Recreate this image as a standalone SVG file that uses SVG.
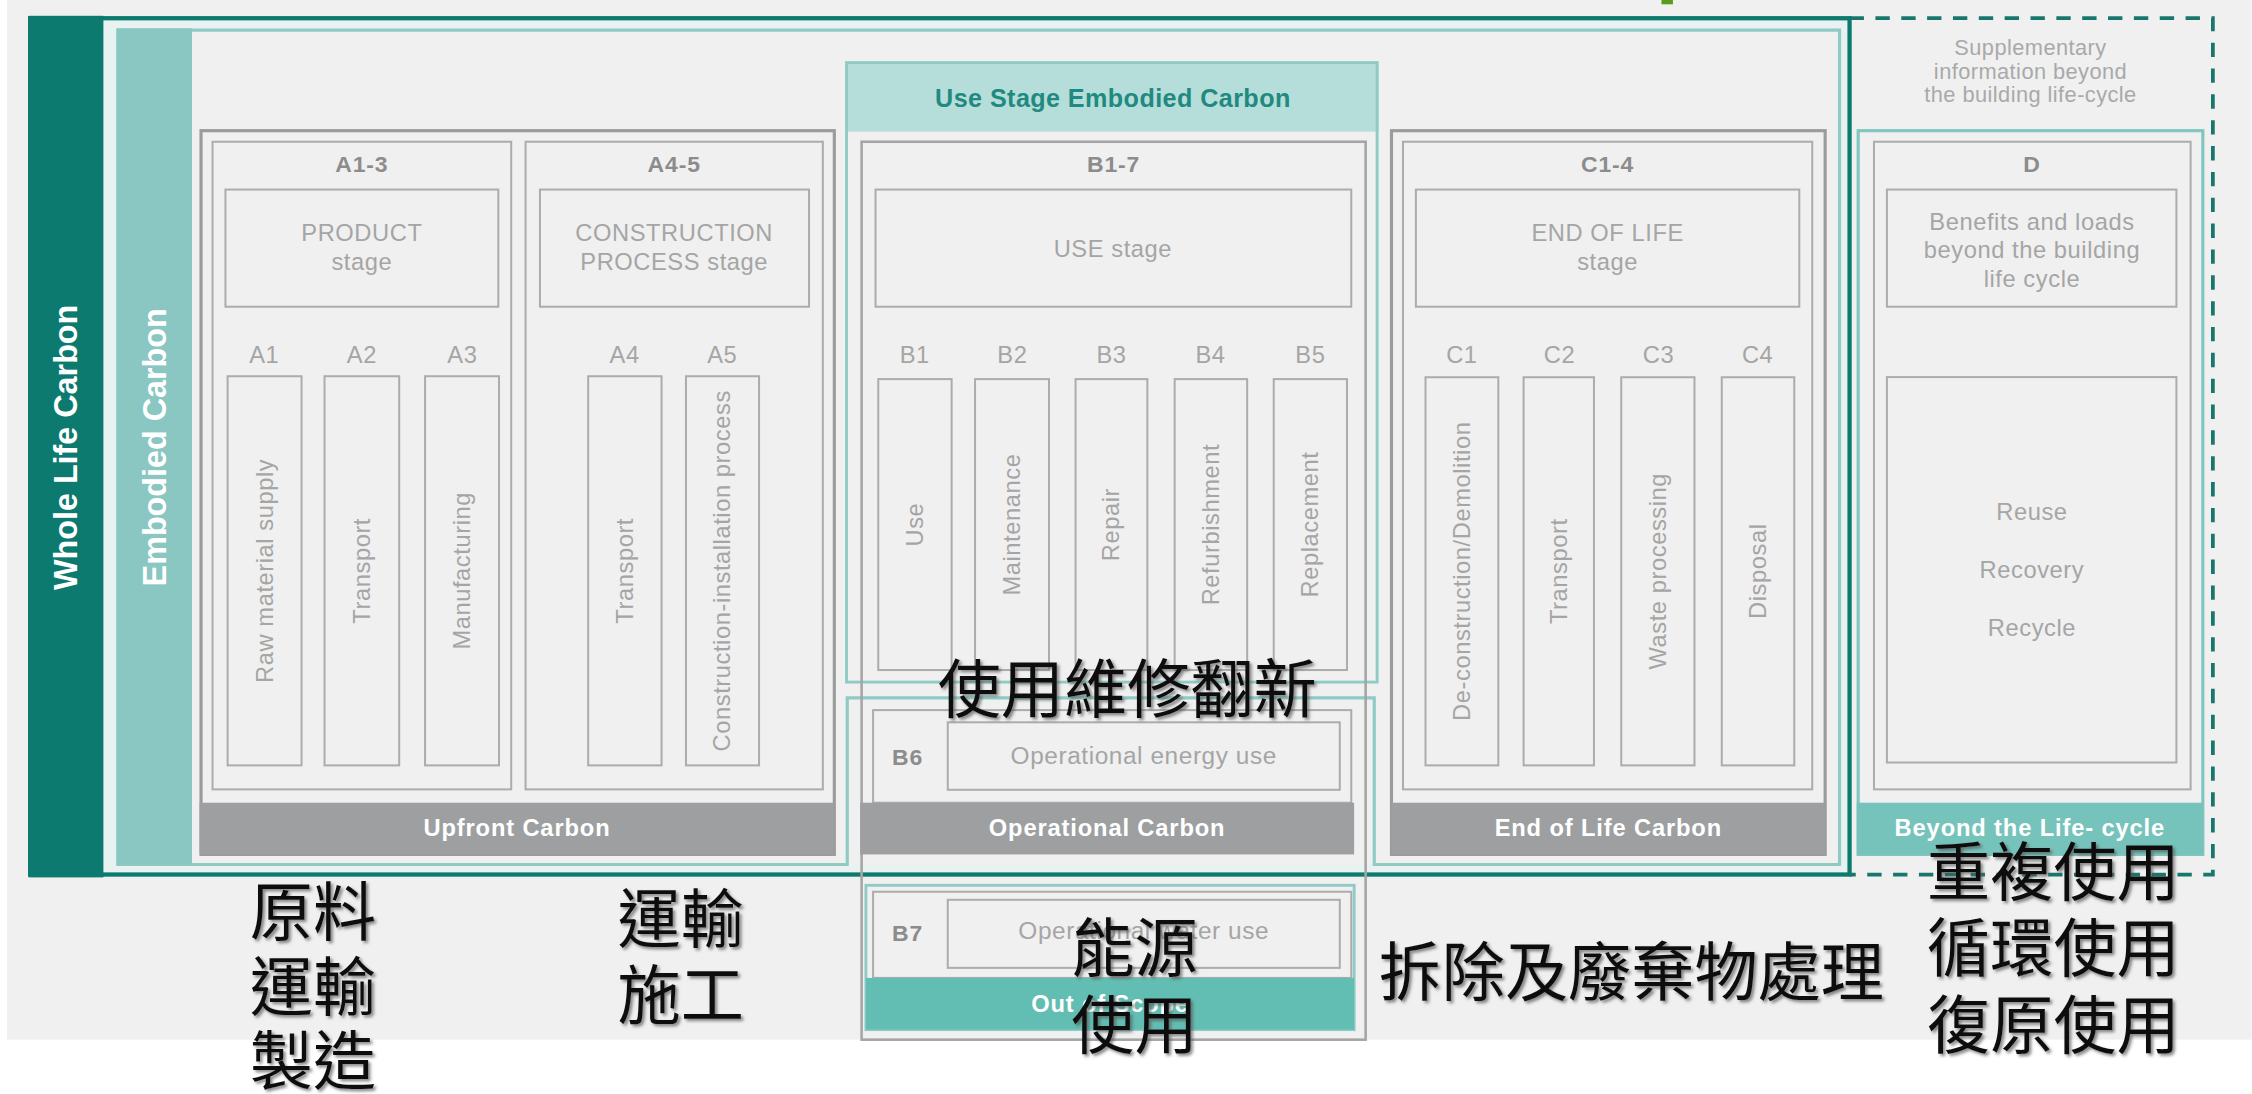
<svg xmlns="http://www.w3.org/2000/svg" width="2252" height="1094" viewBox="0 0 2252 1094">
<style>
.t{font-family:'Liberation Sans',Arial,Helvetica,sans-serif}
.g{fill:#a5a5a5;font-size:16.5px;letter-spacing:0.4px;text-anchor:middle}
.s{fill:#a9a9a9;font-size:15.2px;letter-spacing:0.3px;text-anchor:middle}
.hd{fill:#8c8c8c;font-size:16px;font-weight:bold;letter-spacing:0.6px;text-anchor:middle}
.w{fill:#ffffff;font-size:16.5px;font-weight:bold;letter-spacing:0.6px;text-anchor:middle}
.big{fill:#ffffff;font-size:22.5px;font-weight:bold;text-anchor:middle;dominant-baseline:central}
.v{dominant-baseline:central}
.uh{fill:#1f8a80;font-size:17.5px;font-weight:bold;letter-spacing:0.3px;text-anchor:middle}
.cjk{font-family:'Noto Sans CJK TC','Noto Sans CJK SC','Noto Sans CJK JP',sans-serif;font-size:44px;fill:#111111;filter:url(#sh)}
.bx{fill:none;stroke:#acacac;stroke-width:1.4}
.ob{fill:none;stroke:#9b9b9b;stroke-width:2.2}
.tf{fill:none;stroke:#8fcac5;stroke-width:2}
.gb{fill:#9d9fa1}
</style>
<defs>
<filter id="sh" x="-10%" y="-20%" width="130%" height="150%">
<feDropShadow dx="1.6" dy="1.6" stdDeviation="1.1" flood-color="#555555" flood-opacity="0.7"/>
</filter>
</defs>
<g transform="scale(1.436)">
<g id="background">
<rect x="4.8" y="0" width="1563.2" height="724" fill="#f0f0f0"/>
<rect x="1157" y="0" width="8" height="3" fill="#5a9a1e"/>
</g>

<g id="whole-life">
<rect x="21" y="12.7" width="1267" height="596.3" fill="#e7f2f1" stroke="#0c7a6f" stroke-width="3"/>
<rect x="20" y="11" width="52" height="600" fill="#0c7a6f"/>
<text class="t big" transform="translate(46.2,311.5) rotate(-90)">Whole Life Carbon</text>
</g>

<g id="supplementary">
<path d="M1288 12.7 H1541 V609 H1288" fill="none" stroke="#17776d" stroke-width="2.6" stroke-dasharray="10 8"/>
<text class="t s" x="1414" y="38">Supplementary</text>
<text class="t s" x="1414" y="55">information beyond</text>
<text class="t s" x="1414" y="71">the building life-cycle</text>
</g>

<g id="embodied">
<rect x="82" y="21" width="1199" height="581" fill="#f0f0f0"/>
<path d="M82 21 H1281 V602 H957 V486 H590 V602 H82 Z" fill="none" stroke="#8fcac5" stroke-width="2.2"/>
<rect x="81.5" y="19.7" width="52.2" height="582.3" fill="#8ac6c2"/>
<text class="t big" transform="translate(107.6,311.5) rotate(-90)">Embodied Carbon</text>
</g>

<g id="upfront">
<rect class="ob" x="140" y="91" width="441" height="504"/>
<rect class="gb" x="139" y="559" width="442" height="36"/>
<text class="t w" x="360" y="582">Upfront Carbon</text>
</g>

<g id="a1-3">
<rect class="bx" x="148" y="98.7" width="208" height="451"/>
<text class="t hd" x="252" y="119.5">A1-3</text>
<rect class="bx" x="157" y="132" width="190" height="81.6"/>
<text class="t g" x="252" y="168">PRODUCT</text>
<text class="t g" x="252" y="188">stage</text>
<text class="t g" x="184" y="253">A1</text>
<text class="t g" x="252" y="253">A2</text>
<text class="t g" x="322" y="253">A3</text>
<rect class="bx" x="158.5" y="262" width="51.5" height="271"/>
<rect class="bx" x="226" y="262" width="52" height="271"/>
<rect class="bx" x="296" y="262" width="51.5" height="271"/>
<text class="t g v" transform="translate(184.2,397.5) rotate(-90)">Raw material supply</text>
<text class="t g v" transform="translate(252,397.5) rotate(-90)">Transport</text>
<text class="t g v" transform="translate(321.7,397.5) rotate(-90)">Manufacturing</text>
</g>

<g id="a4-5">
<rect class="bx" x="366" y="98.7" width="207" height="451"/>
<text class="t hd" x="469.5" y="119.5">A4-5</text>
<rect class="bx" x="376" y="132" width="187.4" height="81.6"/>
<text class="t g" x="469.5" y="168">CONSTRUCTION</text>
<text class="t g" x="469.5" y="188">PROCESS stage</text>
<text class="t g" x="435" y="253">A4</text>
<text class="t g" x="503" y="253">A5</text>
<rect class="bx" x="409.6" y="262" width="51.1" height="271"/>
<rect class="bx" x="477.7" y="262" width="50.9" height="271"/>
<text class="t g v" transform="translate(435.1,397.5) rotate(-90)">Transport</text>
<text class="t g v" transform="translate(503.1,397.5) rotate(-90)">Construction-installation process</text>
</g>

<g id="use-stage">
<rect x="589.5" y="43.6" width="370.5" height="48" fill="#b5ddd9"/>
<rect class="tf" x="589.5" y="43.6" width="369.5" height="431.4"/>
<text class="t uh" x="775" y="74.3">Use Stage Embodied Carbon</text>
</g>

<g id="b1-7">
<rect x="600" y="98.7" width="351" height="625.3" fill="none" stroke="#a5a5a5" stroke-width="1.8"/>
<text class="t hd" x="775.5" y="119.5">B1-7</text>
<rect class="bx" x="609.7" y="132" width="331.3" height="81.6"/>
<text class="t g" x="775" y="179">USE stage</text>
<text class="t g" x="637" y="253">B1</text>
<text class="t g" x="705" y="253">B2</text>
<text class="t g" x="774" y="253">B3</text>
<text class="t g" x="843" y="253">B4</text>
<text class="t g" x="912.5" y="253">B5</text>
<rect class="bx" x="611.6" y="264" width="51.1" height="202.6"/>
<rect class="bx" x="679" y="264" width="51.5" height="202.6"/>
<rect class="bx" x="749" y="264" width="50" height="202.6"/>
<rect class="bx" x="818" y="264" width="50.5" height="202.6"/>
<rect class="bx" x="887" y="264" width="51" height="202.6"/>
<text class="t g v" transform="translate(637.1,365.3) rotate(-90)">Use</text>
<text class="t g v" transform="translate(704.7,365.3) rotate(-90)">Maintenance</text>
<text class="t g v" transform="translate(774,365.3) rotate(-90)">Repair</text>
<text class="t g v" transform="translate(843.2,365.3) rotate(-90)">Refurbishment</text>
<text class="t g v" transform="translate(912.5,365.3) rotate(-90)">Replacement</text>
</g>

<g id="operational">
<rect class="bx" x="608" y="494.5" width="333" height="64.5"/>
<text class="t hd" x="632" y="533">B6</text>
<rect class="bx" x="660" y="503" width="273" height="47"/>
<text class="t g" x="796.5" y="532" style="font-size:17px">Operational energy use</text>
<rect class="gb" x="599" y="559" width="344" height="36"/>
<text class="t w" x="771" y="582">Operational Carbon</text>
</g>

<g id="out-of-scope">
<rect class="tf" x="603" y="616.5" width="340" height="100.5"/>
<rect class="bx" x="608" y="621" width="333" height="60"/>
<text class="t hd" x="632" y="655">B7</text>
<rect class="bx" x="660" y="626.6" width="273" height="47.4"/>
<text class="t g" x="796.5" y="654" style="font-size:17px">Operational water use</text>
<rect x="603" y="681" width="340" height="36" fill="#62beb3"/>
<text class="t w" x="773" y="705">Out of Scope</text>
</g>

<g id="c1-4">
<rect class="ob" x="969" y="91" width="302" height="504"/>
<rect class="bx" x="977" y="98.7" width="285" height="451"/>
<text class="t hd" x="1119.5" y="119.5">C1-4</text>
<rect class="bx" x="986" y="132" width="267" height="81.6"/>
<text class="t g" x="1119.5" y="168">END OF LIFE</text>
<text class="t g" x="1119.5" y="188">stage</text>
<text class="t g" x="1018" y="253">C1</text>
<text class="t g" x="1086" y="253">C2</text>
<text class="t g" x="1155" y="253">C3</text>
<text class="t g" x="1224" y="253">C4</text>
<rect class="bx" x="992.7" y="262.7" width="50.7" height="270.3"/>
<rect class="bx" x="1061" y="262.7" width="49" height="270.3"/>
<rect class="bx" x="1129" y="262.7" width="51" height="270.3"/>
<rect class="bx" x="1199" y="262.7" width="50.5" height="270.3"/>
<text class="t g v" transform="translate(1018,397.8) rotate(-90)">De-construction/Demolition</text>
<text class="t g v" transform="translate(1085.5,397.8) rotate(-90)">Transport</text>
<text class="t g v" transform="translate(1154.5,397.8) rotate(-90)">Waste processing</text>
<text class="t g v" transform="translate(1224.2,397.8) rotate(-90)">Disposal</text>
<rect class="gb" x="969" y="559" width="302" height="36"/>
<text class="t w" x="1120" y="582">End of Life Carbon</text>
</g>

<g id="d">
<rect x="1294" y="91" width="240" height="504" fill="none" stroke="#7fc6be" stroke-width="2.2"/>
<rect class="bx" x="1305" y="98.7" width="220.5" height="451"/>
<text class="t hd" x="1415" y="119.5">D</text>
<rect class="bx" x="1314" y="132" width="201.6" height="81.6"/>
<text class="t g" x="1415" y="160">Benefits and loads</text>
<text class="t g" x="1415" y="180">beyond the building</text>
<text class="t g" x="1415" y="200">life cycle</text>
<rect class="bx" x="1314" y="262.6" width="201.6" height="268.4"/>
<text class="t g" x="1415" y="362">Reuse</text>
<text class="t g" x="1415" y="402.5">Recovery</text>
<text class="t g" x="1415" y="443">Recycle</text>
<rect x="1293" y="559" width="241" height="36" fill="#76c3bb"/>
<text class="t w" x="1413.5" y="582">Beyond the Life- cycle</text>
</g>

<g id="connectors"/>

<g id="annotations">
<text class="cjk" x="653" y="496">使用維修翻新</text>
<text class="cjk" x="174" y="651">原料</text>
<text class="cjk" x="174" y="703">運輸</text>
<text class="cjk" x="174" y="755">製造</text>
<text class="cjk" x="430" y="656">運輸</text>
<text class="cjk" x="430" y="709">施工</text>
<text class="cjk" x="746" y="676">能源</text>
<text class="cjk" x="746" y="730">使用</text>
<text class="cjk" x="960" y="693">拆除及廢棄物處理</text>
<text class="cjk" x="1342" y="623">重複使用</text>
<text class="cjk" x="1342" y="676">循環使用</text>
<text class="cjk" x="1342" y="730">復原使用</text>
</g>
</g>
</svg>
